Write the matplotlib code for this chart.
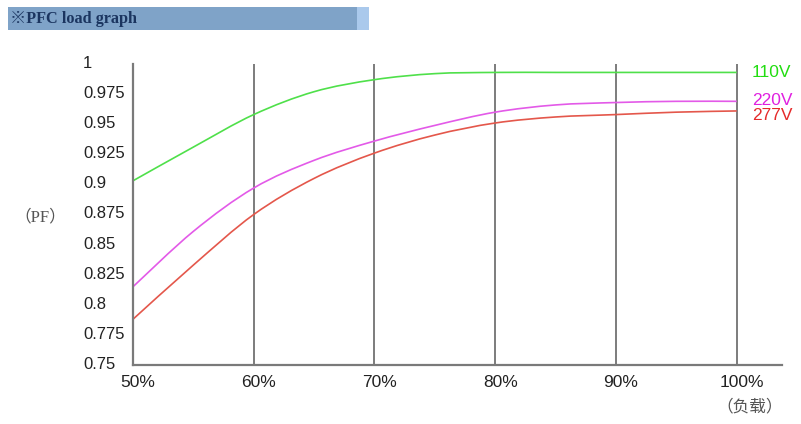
import numpy as np
import matplotlib

matplotlib.use("Agg")
import matplotlib.pyplot as plt  # noqa: E402
import matplotlib.transforms as mtransforms  # noqa: E402
from matplotlib.patches import Rectangle, PathPatch  # noqa: E402
from matplotlib.path import Path  # noqa: E402

# load in %, PF values
load = [50, 55, 60, 65, 70, 75, 80, 85, 90, 95, 100]
pf_110v = [0.903, 0.931, 0.958, 0.977, 0.987, 0.992, 0.993, 0.993, 0.993, 0.993, 0.993]
pf_220v = [0.815, 0.861, 0.897, 0.920, 0.936, 0.949, 0.960, 0.966, 0.968, 0.969, 0.969]
pf_277v = [0.788, 0.833, 0.875, 0.905, 0.926, 0.941, 0.951, 0.956, 0.958, 0.960, 0.961]

series_names = ["110V", "220V", "277V"]
series_colors = ["#4fe04a", "#e35ae8", "#e4574b"]
label_colors = ["#22dd11", "#e020e0", "#e52a2a"]

x_ticks = [50, 60, 70, 80, 90, 100]
x_ticklabels = ["50%", "60%", "70%", "80%", "90%", "100%"]
y_ticks = [0.75, 0.775, 0.8, 0.825, 0.85, 0.875, 0.9, 0.925, 0.95, 0.975, 1.0]
y_ticklabels = ["0.75", "0.775", "0.8", "0.825", "0.85", "0.875", "0.9", "0.925", "0.95", "0.975", "1"]


def smooth_path(xs, ys):
    # Catmull-Rom style bezier through the read points (drawing only)
    xs = np.asarray(xs, float)
    ys = np.asarray(ys, float)
    verts = [(xs[0], ys[0])]
    codes = [Path.MOVETO]
    n = len(xs)
    for i in range(n - 1):
        i0, i3 = max(i - 1, 0), min(i + 2, n - 1)
        c1 = (xs[i] + (xs[i + 1] - xs[i0]) / 6, ys[i] + (ys[i + 1] - ys[i0]) / 6)
        c2 = (xs[i + 1] - (xs[i3] - xs[i]) / 6, ys[i + 1] - (ys[i3] - ys[i]) / 6)
        verts += [c1, c2, (xs[i + 1], ys[i + 1])]
        codes += [Path.CURVE4] * 3
    return Path(verts, codes)


W, H = 801, 424
fig = plt.figure(figsize=(W / 100, H / 100), dpi=100)
fig.patch.set_facecolor("white")

# title bar
fig.patches.append(Rectangle((8 / W, 1 - 30 / H), 349 / W, 23 / H,
                             transform=fig.transFigure, facecolor="#7fa3c8",
                             edgecolor="none"))
fig.patches.append(Rectangle((357 / W, 1 - 30 / H), 12 / W, 23 / H,
                             transform=fig.transFigure, facecolor="#aac9ec",
                             edgecolor="none"))
fig.text(10 / W, 1 - 19 / H, "※PFC load graph", fontsize=11.7, fontweight="bold",
         color="#1b3560", va="center", ha="left",
         family=["Liberation Serif", "DejaVu Serif", "Noto Sans CJK SC"])

ax = fig.add_axes([133 / W, 59 / H, 649 / W, 301 / H])
ax.set_xlim(50, 103.75)
ax.set_ylim(0.75, 1.0)

for pf, c in zip([pf_110v, pf_220v, pf_277v], series_colors):
    ax.add_patch(PathPatch(smooth_path(load, pf), facecolor="none", edgecolor=c,
                           linewidth=1.2))

for xv in x_ticks[1:]:
    ax.axvline(xv, color="#666666", linewidth=1.2, zorder=0)

for s in ["top", "right"]:
    ax.spines[s].set_visible(False)
for s in ["left", "bottom"]:
    ax.spines[s].set_color("#7a7a7a")
    ax.spines[s].set_linewidth(1.6)

ax.set_xticks(x_ticks)
ax.set_xticklabels(x_ticklabels, fontsize=12.5, family="Liberation Sans", color="#222222")
ax.set_yticks(y_ticks)
ax.set_yticklabels(y_ticklabels, fontsize=12, family="Liberation Sans", color="#222222",
                   ha="left")
ax.tick_params(axis="both", length=0)
ax.tick_params(axis="y", pad=36)
ax.tick_params(axis="x", pad=7)

shift = mtransforms.ScaledTranslation(5 / 100, 0, fig.dpi_scale_trans)
for lbl in ax.get_xticklabels():
    lbl.set_transform(lbl.get_transform() + shift)
up = mtransforms.ScaledTranslation(0, 2 / 100, fig.dpi_scale_trans)
for lbl in ax.get_yticklabels():
    lbl.set_transform(lbl.get_transform() + up)

label_offsets = [(15, 0), (15, 1), (15, -5)]
for name, pf, c, off in zip(series_names, [pf_110v, pf_220v, pf_277v], label_colors, label_offsets):
    ax.annotate(name, xy=(load[-1], pf[-1]), xytext=off, textcoords="offset pixels",
                color=c, fontsize=12.5, family="Liberation Sans", va="center", ha="left",
                annotation_clip=False)

fig.text(14 / W, 1 - 217 / H, "（PF）", fontsize=12, color="#555555", va="center", ha="left",
         family=["Liberation Serif", "Noto Sans CJK SC"])
fig.text(716 / W, 1 - 407 / H, "（负载）", fontsize=12, color="#555555", va="center", ha="left",
         family=["Noto Sans CJK SC", "DejaVu Sans"])

fig.savefig("out.png", dpi=100)
plt.close(fig)
